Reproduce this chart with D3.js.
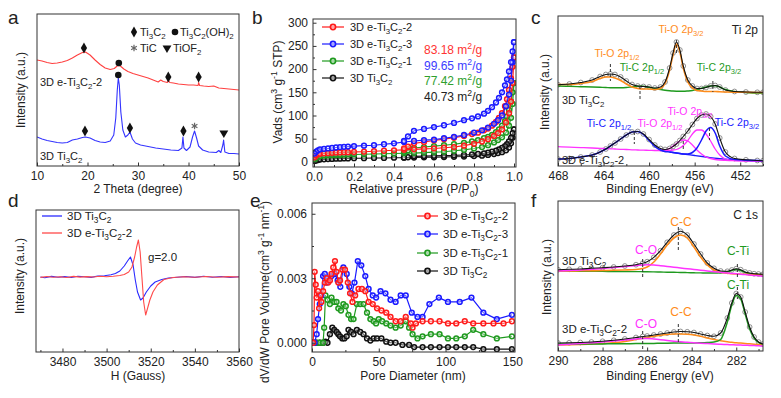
<!DOCTYPE html>
<html>
<head>
<meta charset="utf-8">
<script src="https://cdn.jsdelivr.net/npm/d3@7"></script>
<style>
body { margin: 0; background: #fff; }
svg text { font-family: Arial, "Liberation Sans", sans-serif; }
</style>
</head>
<body>
<svg id="fig" width="781" height="398"></svg>
<script>
// ---------------- data ----------------
// a: XRD
var xrdRedTheta = [10,11,12,13,14,15,16,17,18,19, 19.6,20.5,21.5,22.5,23.5,24.5,25.3,26,26.5,27.2, 28,29,30,31,32,33,34,34.5,35,35.8, 36,36.3,37,38,39,40,41,41.9,42,42.2, 43,44,45,46,47,48,49,50];
var xrdRedInt = [106,105,103.5,102.5,103,104,105.5,108,111,113.5, 114,111,106,101.5,98,96.5,97.5,100.5,100,97, 94.5,92.5,91,89.5,88,86,84,86,84.5,83.5, 86,83.5,83,82,81.5,81,81,80.5,83.5,80.5, 80,79.5,80,78,77.5,77,76.5,76];
var xrdBlueTheta = [10,11,12,13,14,15,16,17,18,19, 19.6,20.5,21.5,22.5,23.5,24.5,25.2,25.6,25.9,26.1, 26.3,26.6,27,27.5,28,28.4,28.9,29.5,30.5,32, 33.5,35,36.5,38,38.7,38.9,39.1,39.6,40.3,40.8, 41.2,41.6,42,42.8,44,45.5,46,46.4,46.8,46.95, 47.2,48,49,50];
var xrdBlueInt = [29,27,25.5,24.5,23.5,23,23.5,26,27,28.5, 29,28,25.5,24,23.5,25,31,48,76,88, 81,54,36,29,31,34,27,23,21,19.5, 18,17,16,15.5,18,29,18,15.5,19,29, 35,28,20,16,14,13.5,15.5,13.5,21,26, 14,12.5,12.5,12];
// [2theta, height, symbol]
var xrdMarks = [[19.3,118,"diamond"],[26.2,103,"circle"],[36,89,"diamond"],[42,89,"diamond"],
                [19.5,35,"diamond"],[26.1,91,"circle"],[28.4,38,"diamond"],[39,35,"diamond"],[41.2,40,"star"],[47,33,"tri"]];

// b: N2 isotherms
var bSeries = ["3D e-Ti_3C_2-2","3D e-Ti_3C_2-3","3D e-Ti_3C_2-1","3D Ti_3C_2"];
var bColors = ["#ff1a1a","#1a1aff","#1f9a1f","#111111"];
var bAreas = ["83.18 m^2/g","99.65 m^2/g","77.42 m^2/g","40.73 m^2/g"];
var bAreaColors = ["#ff3333","#3c3cff","#2ea02e","#222222"];
var bPressAds = [0.003,0.01,0.02,0.03,0.05,0.07,0.09,0.11,0.13,0.15, 0.17,0.2,0.25,0.3,0.35,0.4,0.45,0.5,0.55,0.6, 0.65,0.7,0.75,0.8,0.84,0.87,0.9,0.92,0.94,0.96, 0.975,0.985,0.993,1.0];
var bPressDes = [1.0,0.993,0.985,0.975,0.965,0.955,0.94,0.925,0.91,0.89, 0.87,0.85,0.82,0.79,0.75,0.7,0.65,0.6,0.55,0.5, 0.47,0.45];
var bRedAds = [10,14,16,17.5,18.5,19,19.5,20,20.5,21, 21,21.5,22,23,24,25,26,27,28,29, 30.5,32,35,39,44,49,56,62,70,85, 105,130,170,225];
var bBlueAds = [18,22,25,27,28,29,30,31,32,32.5, 33,34,35,36,38,40,43,45,47,48, 51,54,58,63,68,74,82,90,100,120, 145,175,215,258];
var bGreenAds = [5,9,11,12.5,13.5,14,14.5,15,15,15.5, 16,16,16.5,17,17.5,18,18.5,19,20,21, 22,24,26,29,32,36,42,47,53,63, 78,95,125,170];
var bBlackAds = [2,3,4,5,5.5,6,6.5,7,7,7.5, 7.5,8,8,8.5,8.5,9,9,9.5,10,10, 10.5,11,11.5,12.5,13.5,15,17,19,21,25, 31,40,52,70];
var bRedDes = [225,205,180,155,135,120,105,95,86,78, 72,68,63,60,56,52,49,46,43,40, 33,29];
var bBlueDes = [258,238,215,195,178,165,150,138,128,118, 110,104,98,94,90,84,79,75,71,67, 55,45];
var bGreenDes = [170,150,130,112,98,88,78,70,64,58, 54,51,47,44,41,38,36,34,32,30, 25,22];
var bBlackDes = [70,62,52,44,38,34,30,27,24,22, 20,18.5,17,16,15,14,13.5,13,12.5,12, 10,9.5];

// c: XPS Ti 2p
var cBE = [468,467,466,465,464.3,463.8,463.4,463,462.5,462, 461.5,461,460.5,460,459.5,459,458.6,458.2,457.9,457.6, 457.3,457,456.6,456.2,455.8,455.4,455,454.6,454.2,453.8, 453.3,452.5,451.5,450.5,450];
var cTopEnv = [81.3,82,83.5,86,89.5,91.5,92,91.5,89,85, 81.5,80,79.5,79,78,79,84,98,113,124, 116,100,86,80,77.5,77.5,78.5,80,80.5,79, 76,74.5,74,73.7,73.7];
var cTopTiO = [81.5,81.5,82.5,84.5,87.5,89,89,88,85.5,82, 79,77.5,77,77,76.5,77.5,82.5,96,111,122, 114,98,84,78,75.5,75,74.5,74.5,74.5,74.2, 74,73.8,73.7,73.5,73.5];
var cTopTiC = [80,79.7,79.3,79,78.7,78.5,78.3,78.2,78.2,78.5, 79.2,79.8,79.7,78.7,77.5,76.5,75.8,75.3,75,74.8, 74.7,74.7,75,75.5,76.5,77.7,79,80,80.2,79, 76.5,74.5,73.5,73,73];
var cBotEnv = [7,7.5,9,11,14,17,20,23,27,31, 34,34.5,32,26.5,21,17.5,16.5,17.5,19.5,22, 25.5,29.5,35,41.5,47.5,51,52,49.5,42,28, 14,7.5,6.2,5.5,5.3];
var cBotTiC = [7,7.5,9,11,14,17,20,23,27,31, 34,34.5,31.5,25.5,19.5,16,14.5,14,13.5,13, 12.5,12,12,13.5,18,26,35,38.5,33,20, 10,6.5,5.8,5.4,5.3];
var cBotTiCBgBE = [458.2,457,456,455,454,453.3,452.5,450];
var cBotTiCBg = [14,12,10.5,9,7.5,6.8,6,5.3];
var cBotTiO1 = [19.3,18.8,18.4,18,17.6,17.4,17.2,17,16.7,16.5, 16.2,16,15.8,15.7,15.5,15.5,16,17.5,20,22.5, 25,26,25,21,16,12,9,7.5,6.5,6, 5.7,5.4,5.2,5,5];
var cBotTiO2 = [15.5,15.5,15.7,16,16.5,18,20.5,25.5,32,36, 36,32,25,17,11,7,5.5,5.2,5,5]; // from 459 eV on
var cMarks = [[463.4,102,85],[460.8,80,67],[457.6,126,112],[454.4,85,74],[461.3,34,22],[457.0,25,15],[454.7,38,26]];

// d: EPR
var dBlueH = [3470,3472,3475,3478,3481,3484,3487,3490,3493,3496, 3499,3502,3504,3506,3508,3509.5,3510.8,3512,3513,3514, 3515.4,3516.5,3518,3520,3522,3525,3528,3532,3536,3540, 3544,3548,3552,3556,3560];
var dBlueI = [75,74.3,75.6,74.8,75.4,74.5,75.8,75.2,74.6,76, 76.3,77.2,78.5,81,86,91,95,87,72,60, 52,54,60,66,70,72.5,74,74.8,75.5,74.6, 75.8,74.8,75.5,74.6,75.2];
var dRedH = [3470,3473,3476,3479,3482,3485,3488,3491,3494,3497, 3500,3503,3506,3508,3510,3511.5,3512.7,3513.6,3514.4,3515.2, 3516,3516.8,3517.7,3518.6,3519.6,3521,3523,3526,3530,3535, 3540,3545,3550,3555,3560];
var dRedI = [74.6,75.5,74.8,75.3,74.5,75.6,74.9,75.4,75,75.7, 75.3,75.8,76.5,77.5,80,85,95,105,112,100, 75,50,37,44,52,60,67,72.5,74.5,75.2, 74.7,75.5,74.8,75.4,75];

// e: pore size distribution (x1e-3 cm3 g-1 nm-1)
var eRedD = [0.8,1.5,2,2.8,3.5,4.5,5.3,6.3,7,8.3, 9.6,10.9,12.1,13.4,14.6,15.9,17.2,18.4,19.7,21, 22.7,24.7,26.8,28.5,30.3,32.3,34.8,37.4,39.9,42.4, 45.5,48.7,52,55.6,58.8,62.6,66.4,70.2,74,75.3, 77.8,82.8,89,95.5,101.8,108,114.4,120.7,128.3,135.9, 143.4,149.7];
var eRedV = [0,0.82,3.3,2.7,2.1,2.4,1.6,2.2,1.9,2.4, 2.8,3.0,2.8,2.9,3.2,3.5,3.8,3.3,2.8,2.9, 3.4,3.4,2.8,2.3,1.9,2.2,2.5,2.5,2.4,1.9, 1.8,1.6,1.5,1.4,1.2,1.0,1.0,1.2,0.9,0.7, 0.9,1.0,1.0,1.0,0.9,0.9,1.0,0.9,0.9,0.9, 0.9,1.0];
var eBlueD = [0.8,2,3.5,4.5,5.8,7,8.3,9.6,10.9,12.1, 14.6,17.2,19.2,21.2,23.5,26,28,29.8,31.8,34.3, 36.9,39.9,42.4,45.5,48,51.3,55,58.8,62.6,66.4, 70.2,74.7,79,82.8,87.9,95,101.8,110.6,119.4,128.3, 138.4,149.7];
var eBlueV = [0,0,0.4,1.1,1.8,2.2,3.1,3.2,2.8,2.9, 3.1,3.2,2.9,2.6,3.5,3.2,2.6,2.3,2.8,3.8, 3.6,3.1,2.5,2.2,2.1,2.4,2.3,2.0,1.9,2.2, 2.2,1.4,1.2,1.2,1.8,2.1,1.9,1.9,2.1,1.4, 1.1,1.3];
var eGreenD = [0.8,3.3,5.8,8.3,9.1,10.1,11.6,13.4,14.6,16.7, 18.4,19.7,21.7,23.5,25.3,27.3,29.3,31.1,33.6,36.1, 38.6,41.2,43.7,46.2,48,50,52.5,55.6,58.8,62.6, 66.4,70.2,72.7,75.3,79,82.8,89,95.5,101.8,108, 114.4,120.7,128.3,138.4,149.7];
var eGreenV = [0,0,0,0,0.7,2.2,2.0,1.8,2.1,1.9, 1.9,1.6,1.5,1.8,1.7,1.3,1.1,1.1,1.8,1.8, 1.8,1.4,1.1,1.0,0.9,1.1,1.0,0.9,0.8,0.7, 0.8,1.0,0.7,0.4,0.2,0.3,0.4,0.4,0.2,0.2, 0.3,0.6,0.4,0.2,0.3];
var eBlackD = [0.8,3.3,5.8,8.3,10.1,11.6,13.4,15.2,16.7,18.4, 19.7,21,22.7,24.2,26,27.3,29.3,31.1,33.6,36.1, 38.6,41.2,43.7,46.2,48.7,52,55.6,58.8,62.6,67.7, 72.7,76.5,82.8,89,95.5,101.8,108,114.4,120.7,128.3, 138.4,149.7];
var eBlackV = [0,0,0,0,0.05,0,0.4,0.7,0.6,0.5, 0.4,0.3,0.2,0.2,0.3,0.6,0.5,0.4,0.6,0.5, 0.4,0.2,0.1,0.2,0.2,0.2,0.05,0,0,-0.1, -0.1,-0.2,-0.2,-0.2,-0.2,-0.2,-0.2,-0.2,-0.2,-0.3, -0.3,-0.3];

// f: XPS C 1s
var fBE = [290,289.5,289,288.5,288,287.5,287,286.5,286.2,286, 285.7,285.4,285.1,284.8,284.5,284.2,283.9,283.6,283.3,283, 282.7,282.4,282.2,282,281.8,281.6,281.4,281.2,281,280.8];
var fTopEnv = [81.3,81.7,82,82.7,83.3,84,85,86.3,87.7,89.3, 93.7,100.3,108.7,116,119.7,116,107,97,88,82.7, 80,79.7,81,82.3,81.3,79,78,77.3,77,76.7];
var fTopCC = [80,80,80.2,80.3,80.5,80.7,81,81.5,82.5,84, 89,97,106,113,116,113,104,94,86,81, 78.7,77.7,77.3,77,76.8,76.7,76.5,76.4,76.3,76.2];
var fTopCO = [80,80.5,81,81.8,82.5,83.5,84.5,85.5,86,86.3, 86,85.3,84.5,83.8,83,82.3,81.5,80.8,80,79.3, 78.7,78,77.6,77.2,76.8,76.4,76,75.6,75.2,74.8];
var fTopCTi = [80,79.9,79.8,79.7,79.6,79.5,79.4,79.4,79.3,79.2, 79.1,79,78.8,78.7,78.5,78.4,78.2,78.1,78,78, 78.2,79.2,80.5,81.5,80.5,78.5,77.3,76.7,76.4,76.2];
var fBotEnv = [8,8.2,8.5,9,9.7,10.7,12,13.5,14.5,15, 16,17,18,19,19.5,19.2,18.5,17,15.5,14.7, 18,33,48,57.5,54,39,24,14,9,7];
var fBotCC = [6,6.2,6.5,7,7.5,8.2,9.5,11.5,12.7,13.5, 14.7,15.7,16.5,17,17,16.7,16,14.7,13,11.5, 10.2,9.2,8.7,8.2,7.9,7.5,7.2,6.8,6.5,6.2];
var fBotCO = [6,6.8,7.5,8.2,9,10,11,12,12.5,12.5, 12,11.3,10.5,9.8,9.2,8.7,8.2,7.8,7.4,7, 6.7,6.4,6.2,6,5.9,5.7,5.6,5.4,5.2,5];
var fBotCTi = [7,7,7,7,7.1,7.2,7.3,7.4,7.5,7.5, 7.6,7.7,7.8,7.9,8,8,8,8.2,8.5,9, 11.5,29,46,55.5,52,37,22,13,8.5,7];
var fMarks = [[286.2,92,72],[284.6,124,101],[281.95,87,74],[286.2,20,0],[284.6,27,9],[281.95,64,52]];

// ---------------- helpers ----------------
var svg = d3.select("#fig");
var clipN = 0;
var FONT = "Arial, 'Liberation Sans', sans-serif";
var orange = "#ff8c1a", magenta = "#ff33ff", xgreen = "#1f9a1f", xblue = "#1a1aff";

// text with _x / _{..} subscripts and ^x / ^{..} superscripts
function rich(sel, s, size) {
  sel.attr("font-size", size);
  var re = /([_^])(\{[^}]*\}|.)/g, last = 0, m, shift = 0;
  function add(t, off, fs) {
    var ts = sel.append("tspan").text(t).attr("dy", off - shift);
    if (fs) ts.attr("font-size", fs);
    shift = off;
  }
  while ((m = re.exec(s)) !== null) {
    if (m.index > last) add(s.slice(last, m.index), 0);
    var t = m[2].charAt(0) == "{" ? m[2].slice(1, -1) : m[2];
    add(t, m[1] == "_" ? size * 0.3 : -size * 0.38, size * 0.72);
    last = re.lastIndex;
  }
  if (last < s.length) add(s.slice(last), 0);
  return sel;
}

function label(x, y, s, opt) {
  opt = opt || {};
  var t = svg.append("text").attr("x", x).attr("y", y)
    .attr("text-anchor", opt.anchor || "start")
    .attr("fill", opt.color || "#222");
  if (opt.rotate) t.attr("transform", "rotate(-90," + x + "," + y + ")");
  return rich(t, s, opt.size || 12);
}

function makePanel(b, xDom, yDom) {
  var p = {b: b};
  p.x = d3.scaleLinear().domain(xDom).range([b.x0, b.x1]);
  p.y = d3.scaleLinear().domain(yDom).range([b.y1, b.y0]);
  var id = "clip" + (clipN++);
  svg.append("clipPath").attr("id", id).append("rect")
    .attr("x", b.x0).attr("y", b.y0)
    .attr("width", b.x1 - b.x0).attr("height", b.y1 - b.y0);
  p.g = svg.append("g");
  p.plot = p.g.append("g").attr("clip-path", "url(#" + id + ")");
  return p;
}

function frame(p) {
  p.g.append("rect").attr("x", p.b.x0).attr("y", p.b.y0)
    .attr("width", p.b.x1 - p.b.x0).attr("height", p.b.y1 - p.b.y0)
    .attr("fill", "none").attr("stroke", "#333").attr("stroke-width", 1);
}

function styleAxis(g) {
  g.select(".domain").remove();
  g.selectAll(".tick line").attr("stroke", "#333");
  g.selectAll(".tick text").attr("font-size", 12).attr("font-family", FONT).attr("fill", "#222");
}

function xAxis(p, major, minor, fmt) {
  var t = "translate(0," + p.b.y1 + ")";
  p.g.append("g").attr("transform", t)
    .call(d3.axisBottom(p.x).tickValues(minor).tickSize(-2).tickFormat(""))
    .call(styleAxis);
  p.g.append("g").attr("transform", t)
    .call(d3.axisBottom(p.x).tickValues(major).tickSize(-3.5).tickPadding(5).tickFormat(fmt))
    .call(styleAxis);
}

function yAxis(p, major, minor, fmt) {
  var t = "translate(" + p.b.x0 + ",0)";
  p.g.append("g").attr("transform", t)
    .call(d3.axisLeft(p.y).tickValues(minor).tickSize(-2).tickFormat(""))
    .call(styleAxis);
  p.g.append("g").attr("transform", t)
    .call(d3.axisLeft(p.y).tickValues(major).tickSize(-3.5).tickPadding(5).tickFormat(fmt))
    .call(styleAxis);
}

function drawLine(p, xs, ys, color, w, curve) {
  p.plot.append("path").datum(d3.zip(xs, ys))
    .attr("fill", "none").attr("stroke", color).attr("stroke-width", w || 1.2)
    .attr("stroke-linejoin", "round")
    .attr("d", d3.line().x(function(d) { return p.x(d[0]); })
      .y(function(d) { return p.y(d[1]); }).curve(curve || d3.curveLinear));
}

function drawRings(p, xs, ys, color, r, w) {
  p.plot.append("g").selectAll("circle").data(d3.zip(xs, ys)).enter()
    .append("circle")
    .attr("cx", function(d) { return p.x(d[0]); })
    .attr("cy", function(d) { return p.y(d[1]); })
    .attr("r", r).attr("fill", "#fff").attr("fill-opacity", 0.35)
    .attr("stroke", color).attr("stroke-width", w);
}

function drawDashes(p, marks) {
  p.plot.append("g").selectAll("line").data(marks).enter().append("line")
    .attr("x1", function(d) { return p.x(d[0]); }).attr("x2", function(d) { return p.x(d[0]); })
    .attr("y1", function(d) { return p.y(d[1]); }).attr("y2", function(d) { return p.y(d[2]); })
    .attr("stroke", "#333").attr("stroke-width", 1).attr("stroke-dasharray", "3,2");
}

var fmtInt = d3.format("d");

// ---------------- panel a ----------------
var pa = makePanel({x0: 37, x1: 239, y0: 14, y1: 166}, [10, 50], [0, 152]);
drawLine(pa, xrdRedTheta, xrdRedInt, "#ff4040", 1.1);
drawLine(pa, xrdBlueTheta, xrdBlueInt, "#3434ff", 1.1);
var symType = {diamond: d3.symbolDiamond, circle: d3.symbolCircle, tri: d3.symbolTriangle, star: d3.symbolAsterisk};
pa.plot.append("g").selectAll("path").data(xrdMarks).enter().append("path")
  .attr("transform", function(d) {
    return "translate(" + pa.x(d[0]) + "," + pa.y(d[1]) + ")" + (d[2] == "tri" ? " rotate(180)" : "");
  })
  .attr("d", function(d) { return d3.symbol().type(symType[d[2]]).size(d[2] == "star" ? 30 : 34)(); })
  .attr("fill", function(d) { return d[2] == "star" ? "none" : "#111"; })
  .attr("stroke", function(d) { return d[2] == "star" ? "#666" : "none"; })
  .attr("stroke-width", 1.2);
xAxis(pa, [10, 20, 30, 40, 50], [15, 25, 35, 45], fmtInt);
frame(pa);
// legend symbols
var legSym = [[134, 32, "diamond"], [175, 32, "circle"], [134, 48, "star"], [167, 48, "tri"]];
svg.append("g").selectAll("path").data(legSym).enter().append("path")
  .attr("transform", function(d) { return "translate(" + d[0] + "," + d[1] + ")" + (d[2] == "tri" ? " rotate(180)" : ""); })
  .attr("d", function(d) { return d3.symbol().type(symType[d[2]]).size(d[2] == "star" ? 30 : 34)(); })
  .attr("fill", function(d) { return d[2] == "star" ? "none" : "#111"; })
  .attr("stroke", function(d) { return d[2] == "star" ? "#666" : "none"; })
  .attr("stroke-width", 1.2);
label(140, 36, "Ti_3C_2", {size: 11});
label(180, 36, "Ti_3C_2(OH)_2", {size: 11});
label(140, 52, "TiC", {size: 11});
label(173, 52, "TiOF_2", {size: 11});
label(40, 86, "3D e-Ti_3C_2-2", {size: 11});
label(40, 160, "3D Ti_3C_2", {size: 11});
label(138, 193, "2 Theta (degree)", {anchor: "middle"});
label(25, 90, "Intensity (a.u.)", {anchor: "middle", rotate: true});
label(8, 24, "a", {size: 19});

// ---------------- panel b ----------------
var pb = makePanel({x0: 313, x1: 516, y0: 19, y1: 167}, [-0.005, 1.01], [-11, 308]);
var bAds = [bRedAds, bBlueAds, bGreenAds, bBlackAds];
var bDes = [bRedDes, bBlueDes, bGreenDes, bBlackDes];
[3, 2, 0, 1].forEach(function(i) {
  drawLine(pb, bPressAds, bAds[i], bColors[i], 1.1);
  drawLine(pb, bPressDes, bDes[i], bColors[i], 1.1);
  drawRings(pb, bPressAds, bAds[i], bColors[i], 2.4, 1.5);
  drawRings(pb, bPressDes, bDes[i], bColors[i], 2.4, 1.5);
});
xAxis(pb, [0, 0.2, 0.4, 0.6, 0.8, 1.0], [0.1, 0.3, 0.5, 0.7, 0.9], d3.format(".1f"));
yAxis(pb, [0, 50, 100, 150, 200, 250, 300], [25, 75, 125, 175, 225, 275], fmtInt);
frame(pb);
var bLegY = [27, 44, 61, 78];
bSeries.forEach(function(s, i) {
  svg.append("line").attr("x1", 322).attr("x2", 344).attr("y1", bLegY[i]).attr("y2", bLegY[i])
    .attr("stroke", bColors[i]).attr("stroke-width", 1.2);
  svg.append("circle").attr("cx", 333).attr("cy", bLegY[i]).attr("r", 2.6)
    .attr("fill", "#fff").attr("fill-opacity", 0.35).attr("stroke", bColors[i]).attr("stroke-width", 1.6);
  label(350, bLegY[i] + 4, s, {size: 11});
  label(424, [54, 70, 85, 101][i], bAreas[i], {color: bAreaColors[i]});
});
label(414, 193, "Relative pressure (P/P_0)", {anchor: "middle"});
label(282, 92, "Vads (cm^3 g^{-1} STP)", {anchor: "middle", rotate: true});
label(252, 24, "b", {size: 19});

// ---------------- panel c ----------------
var pc = makePanel({x0: 558, x1: 763, y0: 16, y1: 166}, [468, 450], [0, 150]);
var mono = d3.curveMonotoneX;
drawRings(pc, cBE, cTopEnv, "#777", 2.4, 0.8);
drawRings(pc, cBE, cBotEnv, "#777", 2.4, 0.8);
drawLine(pc, cBE, cTopTiC, xgreen, 1.4, mono);
drawLine(pc, cBE, cTopTiO, orange, 1.6, mono);
drawLine(pc, cBE, cTopEnv, "#111", 1.1, mono);
drawLine(pc, cBotTiCBgBE, cBotTiCBg, xblue, 1.3, mono);
drawLine(pc, cBE, cBotTiO1, magenta, 1.3, mono);
drawLine(pc, cBE.slice(15), cBotTiO2, magenta, 1.3, mono);
drawLine(pc, cBE, cBotTiC, xblue, 1.5, mono);
drawLine(pc, cBE, cBotEnv, "#111", 1.1, mono);
drawDashes(pc, cMarks);
xAxis(pc, [468, 464, 460, 456, 452], [466, 462, 458, 454, 450], fmtInt);
frame(pc);
label(758, 34, "Ti 2p", {anchor: "end"});
label(681, 33, "Ti-O 2p_{3/2}", {anchor: "middle", color: orange, size: 10.5});
label(617, 57, "Ti-O 2p_{1/2}", {anchor: "middle", color: orange, size: 10.5});
label(642, 71, "Ti-C 2p_{1/2}", {anchor: "middle", color: xgreen, size: 10.5});
label(719, 71, "Ti-C 2p_{3/2}", {anchor: "middle", color: xgreen, size: 10.5});
label(562, 104, "3D Ti_3C_2", {size: 11});
label(690, 115, "Ti-O 2p_{3/2}", {anchor: "middle", color: magenta, size: 10.5});
label(609, 127, "Ti-C 2p_{1/2}", {anchor: "middle", color: xblue, size: 10.5});
label(660, 127, "Ti-O 2p_{1/2}", {anchor: "middle", color: magenta, size: 10.5});
label(737, 126, "Ti-C 2p_{3/2}", {anchor: "middle", color: xblue, size: 10.5});
label(562, 164, "3D e-Ti_3C_2-2", {size: 11});
label(660, 193, "Binding Energy (eV)", {anchor: "middle"});
label(549, 92, "Intensity (a.u.)", {anchor: "middle", rotate: true});
label(531, 24, "c", {size: 19});

// ---------------- panel d ----------------
var pd = makePanel({x0: 36, x1: 239, y0: 210, y1: 352}, [3468, 3560], [0, 142]);
drawLine(pd, dBlueH, dBlueI, "#2a2aff", 1.1);
drawLine(pd, dRedH, dRedI, "#ff4a4a", 1.1);
xAxis(pd, [3480, 3500, 3520, 3540, 3560], [3470, 3490, 3510, 3530, 3550], fmtInt);
frame(pd);
svg.append("line").attr("x1", 42).attr("x2", 62).attr("y1", 216).attr("y2", 216).attr("stroke", "#2a2aff").attr("stroke-width", 1.3);
svg.append("line").attr("x1", 42).attr("x2", 62).attr("y1", 233).attr("y2", 233).attr("stroke", "#ff4a4a").attr("stroke-width", 1.3);
label(67, 220, "3D Ti_3C_2", {size: 11.5});
label(67, 237, "3D e-Ti_3C_2-2", {size: 11.5});
label(148, 261, "g=2.0", {size: 11.5});
label(138, 380, "H (Gauss)", {anchor: "middle"});
label(24, 276, "Intensity (a.u.)", {anchor: "middle", rotate: true});
label(8, 207, "d", {size: 19});

// ---------------- panel e ----------------
var pe = makePanel({x0: 312, x1: 515, y0: 203, y1: 352}, [0, 152], [-0.43, 6.5]);
var eD = [eRedD, eBlueD, eGreenD, eBlackD];
var eV = [eRedV, eBlueV, eGreenV, eBlackV];
[3, 2, 1, 0].forEach(function(i) {
  drawLine(pe, eD[i], eV[i], bColors[i], 1.2);
  drawRings(pe, eD[i], eV[i], bColors[i], 2.4, 1.5);
});
xAxis(pe, [0, 50, 100, 150], [25, 75, 125], fmtInt);
yAxis(pe, [0, 3, 6], [1.5, 4.5], function(d) { return d3.format(".3f")(d / 1000); });
frame(pe);
var eLegY = [216, 234, 253, 271];
bSeries.forEach(function(s, i) {
  svg.append("line").attr("x1", 417).attr("x2", 438).attr("y1", eLegY[i]).attr("y2", eLegY[i])
    .attr("stroke", bColors[i]).attr("stroke-width", 1.2);
  svg.append("circle").attr("cx", 427.5).attr("cy", eLegY[i]).attr("r", 2.6)
    .attr("fill", "#fff").attr("fill-opacity", 0.35).attr("stroke", bColors[i]).attr("stroke-width", 1.6);
  label(443, eLegY[i] + 4, s, {size: 11.5});
});
label(413, 380, "Pore Diameter (nm)", {anchor: "middle"});
label(269, 292, "dV/dW Pore Volume(cm^3 g^{-1} nm^{-1})", {anchor: "middle", rotate: true});
label(250, 207, "e", {size: 19});

// ---------------- panel f ----------------
var pf = makePanel({x0: 558, x1: 763, y0: 201, y1: 351}, [290, 280.8], [0, 150]);
drawRings(pf, fBE, fTopEnv, "#777", 2.4, 0.8);
drawRings(pf, fBE, fBotEnv, "#777", 2.4, 0.8);
drawLine(pf, fBE, fTopCTi, xgreen, 1.4, mono);
drawLine(pf, fBE, fTopCC, orange, 1.6, mono);
drawLine(pf, fBE, fTopCO, magenta, 1.5, mono);
drawLine(pf, fBE, fTopEnv, "#111", 1.1, mono);
drawLine(pf, fBE, fBotCC, orange, 1.5, mono);
drawLine(pf, fBE, fBotCTi, xgreen, 1.5, mono);
drawLine(pf, fBE, fBotCO, magenta, 1.5, mono);
drawLine(pf, fBE, fBotEnv, "#111", 1.1, mono);
drawDashes(pf, fMarks);
xAxis(pf, [290, 288, 286, 284, 282], [289, 287, 285, 283, 281], fmtInt);
frame(pf);
label(758, 219, "C 1s", {anchor: "end"});
label(681, 226, "C-C", {anchor: "middle", color: orange});
label(646, 254, "C-O", {anchor: "middle", color: magenta});
label(738, 255, "C-Ti", {anchor: "middle", color: xgreen});
label(562, 265, "3D Ti_3C_2", {size: 11.5});
label(738, 289, "C-Ti", {anchor: "middle", color: xgreen});
label(681, 316, "C-C", {anchor: "middle", color: orange});
label(646, 328, "C-O", {anchor: "middle", color: magenta});
label(562, 333, "3D e-Ti_3C_2-2", {size: 11.5});
label(660, 380, "Binding Energy (eV)", {anchor: "middle"});
label(551, 277, "Intensity (a.u.)", {anchor: "middle", rotate: true});
label(531, 207, "f", {size: 19});
</script>
</body>
</html>
